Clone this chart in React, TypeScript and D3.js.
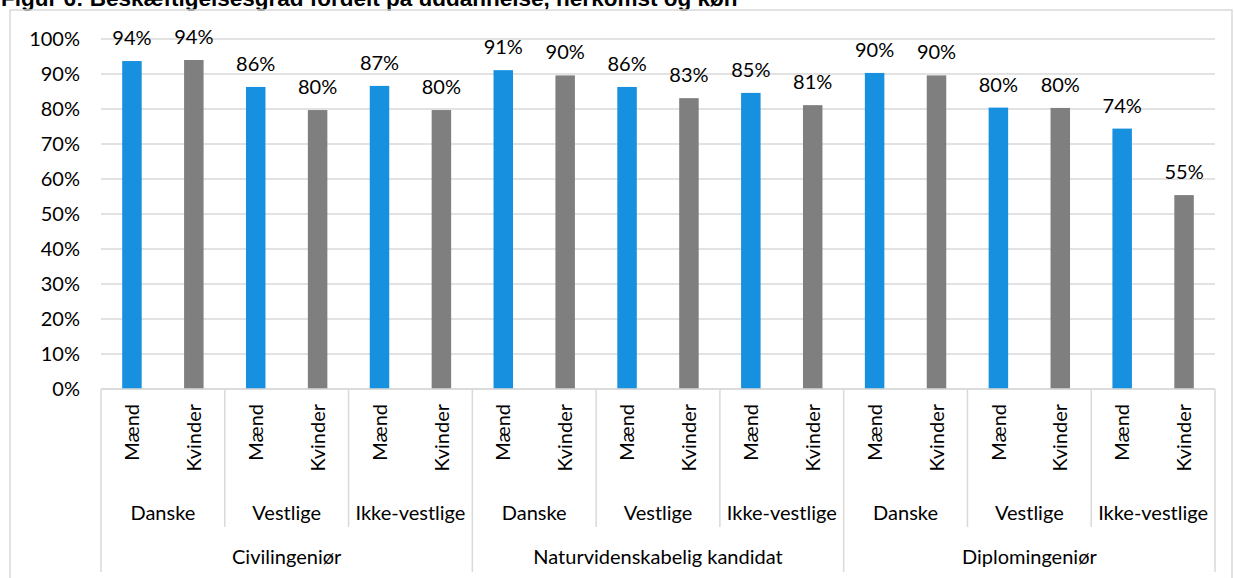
import React from 'react';
import * as d3 from 'd3';

// Data
const educations = ['Civilingeniør', 'Naturvidenskabelig kandidat', 'Diplomingeniør'];
const origins = ['Danske', 'Vestlige', 'Ikke-vestlige'];
const genders = ['Mænd', 'Kvinder'];
const shares = [
  0.937, 0.94, 0.863, 0.797, 0.866, 0.797,
  0.911, 0.896, 0.863, 0.831, 0.846, 0.811,
  0.903, 0.896, 0.804, 0.803, 0.744, 0.554,
];
const yTicks = [0, 0.1, 0.2, 0.3, 0.4, 0.5, 0.6, 0.7, 0.8, 0.9, 1];

const W = 1234;
const H = 578;
const margin = { left: 101, right: 19, top: 39, bottom: 189 };
const FONT = 'Lato, "Open Sans", sans-serif';
const FS = 20;
const colors = ['#1790e0', '#7f7f7f'];
const gridColor = '#d9d9d9';

type Row = { key: string; edu: string; origin: string; gender: string; value: number; gi: number };

const rows: Row[] = [];
educations.forEach((edu) =>
  origins.forEach((origin) =>
    genders.forEach((gender, gi) => {
      rows.push({ key: `${edu}|${origin}|${gender}`, edu, origin, gender, gi, value: shares[rows.length] });
    })
  )
);

export default function App() {
  const plotBottom = H - margin.bottom;
  const x = d3.scaleBand<string>()
    .domain(rows.map((d) => d.key))
    .range([margin.left, W - margin.right])
    .paddingInner(0.685)
    .paddingOuter(0.3425);
  const y = d3.scaleLinear().domain([0, 1]).range([plotBottom, margin.top]);
  const step = x.step();
  const left = margin.left;
  const pct = d3.format('.0%');

  const lvl2Bottom = plotBottom + 138;
  const lvl3Bottom = plotBottom + 183;

  return (
    <svg width={W} height={H} style={{ position: 'absolute', left: 0, top: 0, background: '#fff' }}>
      <text x={1} y={6} fontFamily='"Liberation Sans", Arial, sans-serif' fontWeight="bold" fontSize={22.5} fill="#000">
        Figur 6: Beskæftigelsesgrad fordelt på uddannelse, herkomst og køn
      </text>
      <rect x={10} y={10} width={1222} height={H} fill="none" stroke={gridColor} strokeWidth={1.5} />

      {yTicks.map((t) => (
        <g key={t}>
          <line x1={left} x2={W - margin.right} y1={y(t)} y2={y(t)} stroke={gridColor} strokeWidth={1.5} />
          <text x={80} y={y(t)} dy="0.36em" textAnchor="end" fontFamily={FONT} fontSize={FS} fill="#000">
            {pct(t)}
          </text>
        </g>
      ))}

      {rows.map((d) => (
        <g key={d.key}>
          <rect x={x(d.key)} y={y(d.value)} width={x.bandwidth()} height={plotBottom - y(d.value)} fill={colors[d.gi]} />
          <text
            x={(x(d.key) as number) + x.bandwidth() / 2}
            y={y(d.value) - 16}
            textAnchor="middle"
            fontFamily={FONT}
            fontSize={FS}
            fill="#000"
          >
            {pct(d.value)}
          </text>
          <text
            transform={`translate(${(x(d.key) as number) + x.bandwidth() / 2},${plotBottom + 15}) rotate(-90)`}
            dy="0.36em"
            textAnchor="end"
            fontFamily={FONT}
            fontSize={FS}
            fill="#000"
          >
            {d.gender}
          </text>
        </g>
      ))}

      {/* axis line */}
      <line x1={left} x2={W - margin.right} y1={plotBottom} y2={plotBottom} stroke={gridColor} strokeWidth={1.5} />

      {/* level 2: origin groups */}
      {educations.map((edu, ei) =>
        origins.map((origin, oi) => {
          const gx = left + (ei * origins.length + oi) * genders.length * step;
          const gw = genders.length * step;
          return (
            <g key={`${edu}-${origin}`}>
              {oi > 0 && <line x1={gx} x2={gx} y1={plotBottom} y2={lvl2Bottom} stroke={gridColor} strokeWidth={1.5} />}
              <text x={gx + gw / 2} y={plotBottom + 131} textAnchor="middle" fontFamily={FONT} fontSize={FS} fill="#000">
                {origin}
              </text>
            </g>
          );
        })
      )}

      {/* level 3: educations */}
      {educations.map((edu, ei) => {
        const gw = origins.length * genders.length * step;
        const gx = left + ei * gw;
        return (
          <g key={edu}>
            <line x1={gx} x2={gx} y1={plotBottom} y2={lvl3Bottom} stroke={gridColor} strokeWidth={1.5} />
            {ei === educations.length - 1 && (
              <line x1={gx + gw} x2={gx + gw} y1={plotBottom} y2={lvl3Bottom} stroke={gridColor} strokeWidth={1.5} />
            )}
            <text x={gx + gw / 2} y={plotBottom + 175} textAnchor="middle" fontFamily={FONT} fontSize={FS} fill="#000">
              {edu}
            </text>
          </g>
        );
      })}
    </svg>
  );
}
